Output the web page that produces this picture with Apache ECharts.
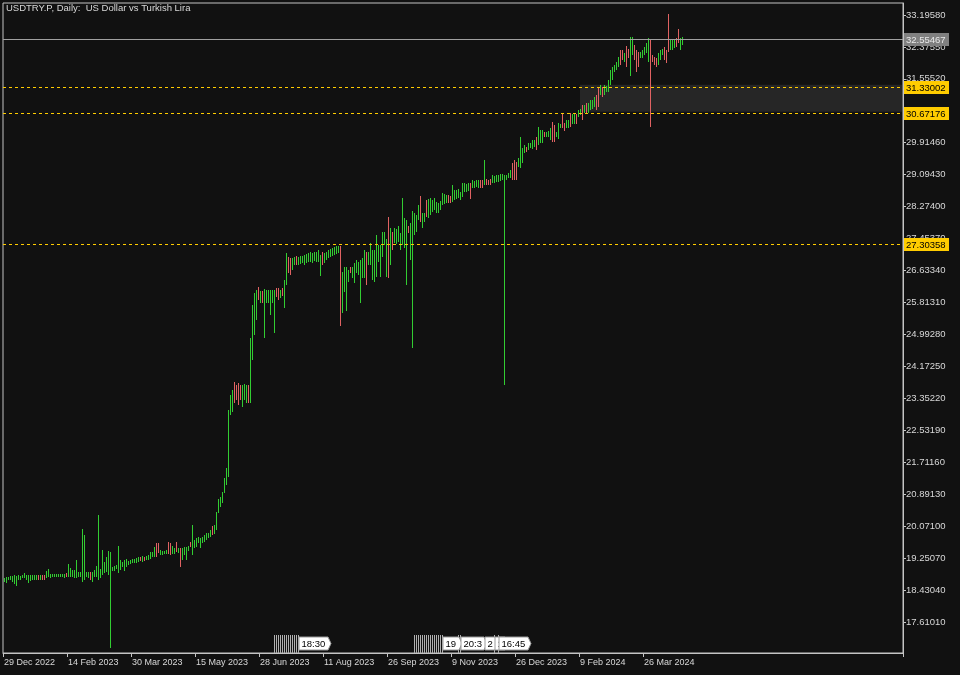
<!DOCTYPE html>
<html>
<head>
<meta charset="utf-8">
<script src="https://cdn.jsdelivr.net/npm/echarts@6/dist/echarts.min.js"></script>
<style>
html,body{margin:0;padding:0;background:#111111;}
#chart{width:960px;height:675px;}
</style>
</head>
<body>
<div id="chart"></div>
<script>
// ---------- DATA ----------
const chartTitle = 'USDTRY.P, Daily:  US Dollar vs Turkish Lira';
const xTickLabels = ['29 Dec 2022','14 Feb 2023','30 Mar 2023','15 May 2023','28 Jun 2023','11 Aug 2023','26 Sep 2023','9 Nov 2023','26 Dec 2023','9 Feb 2024','26 Mar 2024'];
const yTicks = [17.6101,18.4304,19.2507,20.0710,20.8913,21.7116,22.5319,23.3522,24.1725,24.9928,25.8131,26.6334,27.4537,28.2740,29.0943,29.9146,30.7349,31.5552,32.3755,33.1958];

const lows = [
18.64,18.62,18.69,18.70,18.64,18.58,18.53,18.69,18.70,18.73,18.73,18.69,18.60,18.67,18.69,18.70,18.70,18.70,18.69,18.69,
18.69,18.73,18.77,18.73,18.76,18.76,18.76,18.76,18.76,18.76,18.73,18.76,18.77,18.76,18.77,18.73,18.73,18.76,18.77,18.64,
18.69,18.76,18.73,18.69,18.64,18.76,18.77,18.69,18.73,18.82,18.86,18.90,18.82,16.93,18.93,18.93,18.96,18.88,18.94,19.01,
18.93,19.01,19.07,19.10,19.12,19.12,19.13,19.16,19.18,19.16,19.18,19.20,19.20,19.24,19.27,19.29,19.27,19.39,19.33,19.33,
19.36,19.36,19.36,19.33,19.36,19.36,19.42,19.39,19.01,19.20,19.33,19.20,19.44,19.53,19.33,19.50,19.54,19.63,19.50,19.65,
19.67,19.71,19.76,19.78,19.84,19.87,19.97,20.40,20.57,20.66,20.92,21.13,21.33,22.92,23.00,23.23,23.31,23.18,23.31,23.13,
23.31,23.23,23.23,23.23,24.34,24.98,25.36,25.88,25.80,25.80,24.90,25.80,25.80,25.49,25.80,25.03,25.95,25.88,25.93,25.98,
25.67,26.26,26.57,26.52,26.65,26.77,26.77,26.77,26.80,26.83,26.77,26.83,26.85,26.85,26.83,26.88,26.85,26.85,26.49,26.77,
26.83,26.90,26.95,26.98,27.01,27.03,27.06,27.08,25.21,25.54,26.08,25.59,26.34,26.57,26.44,26.31,26.57,26.52,25.80,26.44,
26.44,26.26,26.77,26.77,26.39,26.34,26.47,26.85,26.47,26.98,27.29,26.47,26.44,26.77,27.16,27.34,27.31,27.37,27.16,27.29,
27.21,26.26,27.60,26.90,24.64,27.55,27.62,27.93,27.88,27.73,27.88,28.01,27.98,28.06,28.14,28.19,28.11,28.11,28.19,28.31,
28.34,28.37,28.37,28.37,28.39,28.44,28.47,28.49,28.44,28.52,28.65,28.65,28.67,28.47,28.75,28.75,28.78,28.75,28.75,28.75,
28.83,28.83,28.83,28.83,28.88,28.88,28.91,28.91,28.93,28.96,23.69,28.96,29.01,29.01,28.96,28.96,28.96,29.29,29.26,29.39,
29.65,29.68,29.73,29.78,29.75,29.80,29.73,29.85,29.91,29.91,30.06,30.06,30.06,29.98,29.93,29.93,30.06,30.01,30.29,30.29,
30.21,30.29,30.29,30.32,30.39,30.39,30.39,30.57,30.63,30.50,30.68,30.68,30.68,30.75,30.78,30.83,30.75,30.83,31.14,31.09,
31.14,31.22,31.22,31.40,31.52,31.73,31.78,31.86,31.91,32.04,31.99,31.86,32.09,31.63,32.16,32.04,31.73,31.86,32.09,32.09,
32.16,32.22,31.99,30.32,31.99,31.91,31.86,31.91,32.04,32.16,32.04,31.96,32.24,32.29,32.29,32.35,32.37,32.47,32.29,32.42
];
const highs = [
18.73,18.76,18.77,18.79,18.79,18.82,18.79,18.82,18.79,18.82,18.88,18.82,18.82,18.82,18.82,18.82,18.82,18.82,18.82,18.82,
18.82,18.93,18.96,18.83,18.84,18.84,18.84,18.84,18.84,18.84,18.84,18.86,19.10,18.99,18.94,18.94,19.20,18.90,18.90,20.01,
19.84,18.90,18.90,18.90,18.90,18.94,19.05,20.36,18.96,19.46,19.16,19.27,19.44,19.42,19.03,19.05,19.07,19.56,19.20,19.16,
19.20,19.22,19.18,19.20,19.22,19.23,19.26,19.29,19.29,19.30,19.29,19.30,19.33,19.42,19.42,19.54,19.65,19.65,19.46,19.44,
19.44,19.46,19.67,19.65,19.56,19.50,19.67,19.50,19.50,19.50,19.54,19.54,19.56,19.67,20.10,19.71,19.76,19.78,19.76,19.78,
19.84,19.89,19.90,19.97,20.07,20.10,20.44,20.78,20.83,20.95,21.30,21.56,23.05,23.44,23.57,23.77,23.69,23.74,23.69,23.69,
23.72,23.69,23.69,24.90,25.75,26.06,26.13,26.21,26.11,26.11,26.16,26.13,26.13,26.13,26.13,26.13,26.18,26.18,26.13,26.18,
26.39,27.08,26.98,26.95,26.95,26.98,27.01,26.98,27.01,27.01,27.03,27.06,27.08,27.11,27.08,27.11,27.11,27.16,27.03,27.11,
27.08,27.11,27.16,27.19,27.21,27.24,27.26,27.26,27.26,26.59,26.72,26.72,26.65,26.72,26.72,26.83,26.90,26.85,26.90,26.95,
27.16,27.11,27.11,27.34,27.16,27.16,27.55,27.29,27.29,27.62,27.62,27.44,28.01,27.73,27.62,27.73,27.70,27.78,27.60,28.49,
27.98,27.93,27.78,27.85,28.16,28.11,28.06,28.31,28.55,28.11,28.11,28.44,28.47,28.49,28.44,28.49,28.39,28.37,28.42,28.62,
28.60,28.57,28.57,28.55,28.83,28.70,28.70,28.73,28.65,28.88,28.88,28.85,28.88,28.88,28.96,28.93,28.96,28.96,28.96,28.96,
29.47,28.98,28.96,28.98,29.08,29.06,29.08,29.08,29.11,29.11,29.08,29.08,29.14,29.21,29.39,29.47,29.42,29.52,30.06,29.78,
29.85,29.80,29.91,29.91,29.98,29.98,30.06,30.32,30.24,30.24,30.19,30.19,30.21,30.29,30.45,30.37,30.19,30.42,30.39,30.68,
30.42,30.50,30.50,30.68,30.65,30.65,30.65,30.75,30.78,30.88,30.88,30.93,30.93,31.01,31.01,31.09,31.14,31.32,31.40,31.34,
31.40,31.37,31.52,31.78,31.86,31.91,31.99,32.11,32.29,32.29,32.22,32.40,32.32,32.63,32.63,32.42,32.29,32.24,32.24,32.29,
32.37,32.47,32.60,32.58,32.16,32.11,32.09,32.22,32.29,32.32,32.37,32.29,33.22,32.55,32.58,32.58,32.60,32.83,32.60,32.63
];
// bars that closed lower (drawn red)
const downBars = [17,19,20,31,43,68,70,76,77,82,83,86,88,93,104,115,116,117,118,122,127,129,136,137,139,142,143,146,159,168,
173,181,192,194,202,208,211,222,223,233,238,239,241,242,243,254,255,256,261,266,270,274,275,279,280,283,286,289,291,296,
297,299,308,309,311,312,315,316,317,323,324,325,326,330,331,332,336,337];

const levelLines = [31.33002, 30.67176, 27.30358];
const lastPrice = 32.55467;
const zoneLow = 30.71, zoneHigh = 31.40, zoneStartBar = 288;

// event markers at the bottom
const eventBars = [135,136,137,138,139,140,141,142,143,144,145,146,147,205,206,207,208,209,210,211,212,213,214,215,216,217,218,219,227,228,245,247];
const flagBars = [148,220,229,241,246,248];
const flagTexts = ['18:30','19','20:3','2','1','16:45'];

// ---------- CHART ----------
const totalSlots = 450;
const yMin = 16.8142, yMax = 33.502;
const FONT = '"Liberation Sans", Arial, sans-serif';
const upColor = '#32cd32', downColor = '#e06262';
const gold = '#ffcc00';

const categories = [];
for (let i = 0; i < totalSlots; i++) categories.push(String(i));
const downSet = new Set(downBars);
const barData = lows.map((lo, i) => [i, lo, highs[i], downSet.has(i) ? 0 : 1]);

const measureCtx = document.createElement('canvas').getContext('2d');
measureCtx.font = '9.5px ' + FONT;

function renderBar(params, api) {
  const i = api.value(0);
  const pLo = api.coord([i, api.value(1)]);
  const pHi = api.coord([i, api.value(2)]);
  const x = Math.round(pLo[0]) + 0.5;
  let y1 = Math.round(pLo[1]), y2 = Math.round(pHi[1]);
  if (y1 - y2 < 2) y1 = y2 + 2;
  return {
    type: 'line',
    shape: { x1: x, y1: y1, x2: x, y2: y2 },
    style: { stroke: api.value(3) ? upColor : downColor, lineWidth: 1 }
  };
}

function renderEvent(params, api) {
  const p = api.coord([api.value(0), yMin]);
  const bottom = params.coordSys.y + params.coordSys.height;
  const x = Math.round(p[0]) + 0.5;
  return {
    type: 'line',
    shape: { x1: x, y1: bottom - 18, x2: x, y2: bottom },
    style: { stroke: '#b0b0b0', lineWidth: 1 }
  };
}

function renderFlag(params, api) {
  const p = api.coord([api.value(0), yMin]);
  const bottom = params.coordSys.y + params.coordSys.height;
  const text = flagTexts[params.dataIndex];
  const w = Math.round(measureCtx.measureText(text).width) + 5;
  const x = Math.round(p[0]) - 1;
  const y0 = bottom - 16, h = 13;
  return {
    type: 'group',
    children: [
      { type: 'polygon',
        shape: { points: [[x, y0], [x + w, y0], [x + w + 3, y0 + h / 2], [x + w, y0 + h], [x, y0 + h]] },
        style: { fill: '#ffffff', stroke: '#9a9a9a', lineWidth: 1 } },
      { type: 'text',
        style: { text: text, x: x + 2.5, y: y0 + h / 2 + 0.5, verticalAlign: 'middle', align: 'left',
                 fill: '#000000', font: '9.5px ' + FONT } }
    ]
  };
}

// horizontal level lines + price-scale labels, positioned through the y scale
function renderLevel(params, api) {
  const cs = params.coordSys;
  const v = api.value(1);
  const yc = api.coord([0, v])[1];
  const y = Math.floor(yc) + 0.5;
  const isLast = api.value(2) === 1;
  const xr = cs.x + cs.width;
  return {
    type: 'group',
    children: [
      { type: 'line',
        shape: { x1: cs.x, y1: y, x2: xr, y2: y },
        style: isLast ? { stroke: '#a0a0a0', lineWidth: 1 }
                      : { stroke: gold, lineWidth: 1, lineDash: [3, 3] } },
      { type: 'rect',
        shape: { x: xr + 1, y: Math.floor(yc) - 6, width: 45, height: 13 },
        style: { fill: isLast ? '#808080' : gold } },
      { type: 'text',
        style: { text: v.toFixed(5), x: xr + 3, y: Math.floor(yc) + 1, verticalAlign: 'middle', align: 'left',
                 fill: isLast ? '#e8e8e8' : '#000000', font: '9.5px ' + FONT } }
    ]
  };
}

const option = {
  backgroundColor: '#111111',
  animation: false,
  title: {
    text: chartTitle, left: 6, top: 3, padding: 0,
    textStyle: { color: '#d8d8d8', fontSize: 9.5, fontWeight: 'normal', fontFamily: FONT }
  },
  grid: { left: 3, right: 57, top: 3, bottom: 22, show: true, borderColor: '#c4c4c4', borderWidth: 1, backgroundColor: 'transparent' },
  xAxis: {
    type: 'category', data: categories, boundaryGap: true,
    axisLine: { show: true, lineStyle: { color: '#c4c4c4' } },
    axisTick: { show: true, length: 4, lineStyle: { color: '#c4c4c4' },
                interval: (idx) => idx % 32 === 0 && idx / 32 < xTickLabels.length },
    axisLabel: { show: true, interval: (idx) => idx % 32 === 0 && idx / 32 < xTickLabels.length,
                 formatter: (v, idx) => xTickLabels[Math.round(idx / 32)] || '',
                 align: 'left', margin: 5, color: '#d8d8d8', fontSize: 9, fontFamily: FONT },
    splitLine: { show: false }
  },
  yAxis: {
    type: 'value', position: 'right', min: yMin, max: yMax, scale: true,
    axisLine: { show: true, lineStyle: { color: '#c4c4c4' } },
    axisTick: { show: true, length: 3, customValues: yTicks, lineStyle: { color: '#c4c4c4' } },
    axisLabel: { show: true, customValues: yTicks, formatter: (v) => Number(v).toFixed(5),
                 margin: 3, color: '#d8d8d8', fontSize: 9.5, fontFamily: FONT },
    splitLine: { show: false }
  },
  series: [
    { // zone rectangle
      type: 'line', data: [], z: 1, silent: true,
      markArea: {
        silent: true,
        itemStyle: { color: '#262626' },
        data: [[{ xAxis: String(zoneStartBar), yAxis: zoneHigh }, { xAxis: String(totalSlots - 1), yAxis: zoneLow }]]
      }
    },
    {
      name: 'USDTRY', type: 'custom', renderItem: renderBar, data: barData, z: 3,
      encode: { x: 0, y: [1, 2] }, clip: true
    },
    {
      type: 'custom', renderItem: renderEvent, data: eventBars.map(i => [i, yMin]), z: 4,
      encode: { x: 0, y: 1 }, clip: false, silent: true
    },
    {
      type: 'custom', renderItem: renderFlag, data: flagBars.map((b, k) => [b, yMin]), z: 5,
      encode: { x: 0, y: 1 }, clip: false, silent: true
    },
    { // level lines with labels
      type: 'custom', renderItem: renderLevel, z: 6, silent: true, clip: false,
      encode: { x: 0, y: 1 },
      data: levelLines.map(v => [0, v, 0]).concat([[0, lastPrice, 1]])
    }
  ]
};

const chart = echarts.init(document.getElementById('chart'), null, { renderer: 'canvas' });
chart.setOption(option);
</script>
</body>
</html>
